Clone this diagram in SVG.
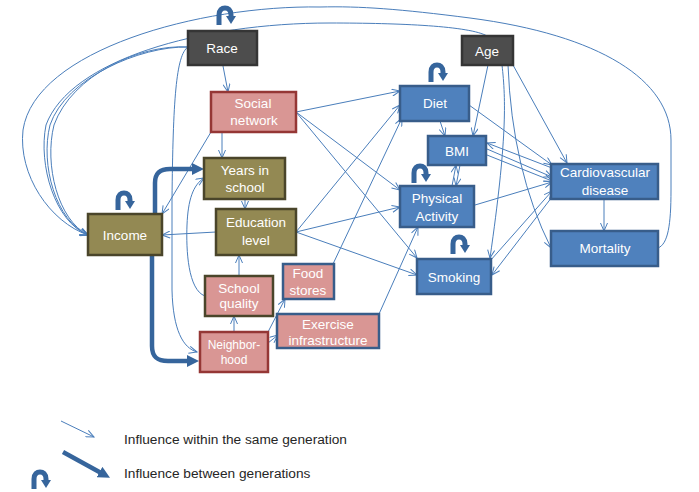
<svg xmlns="http://www.w3.org/2000/svg" xmlns:xlink="http://www.w3.org/1999/xlink" width="699" height="492" viewBox="0 0 699 492">
<style>
.c{fill:none;stroke:#4a7ebb;stroke-width:1;marker-end:url(#a)}
.t{fill:none;stroke:#36659c;stroke-width:4.5;marker-end:url(#t)}
.gray{fill:#4d4d4d;stroke:#353535;stroke-width:2.5}
.soc{fill:#d99694;stroke:#953735;stroke-width:2.5}
.oli{fill:#938953;stroke:#4a452a;stroke-width:2.5}
.sq{fill:#d99694;stroke:#4a452a;stroke-width:2.5}
.pb{fill:#d99694;stroke:#385d8a;stroke-width:2.5}
.blu{fill:#4f81bd;stroke:#385d8a;stroke-width:2.5}
text{font-family:"Liberation Sans",Arial,sans-serif;font-size:13.5px;fill:#ffffff;text-anchor:middle}
text.lg{fill:#262626;text-anchor:start;font-size:13.7px}
</style>
<defs>
<marker id="a" viewBox="0 0 10 8" refX="9" refY="4" markerWidth="10" markerHeight="8" orient="auto" markerUnits="userSpaceOnUse"><path d="M1,0.5 L9,4 L1,7.5" fill="none" stroke="#4a7ebb" stroke-width="1"/></marker>
<marker id="t" viewBox="0 0 12 12" refX="4" refY="6" markerWidth="12" markerHeight="12" orient="auto" markerUnits="userSpaceOnUse"><path d="M0,0 L12,6 L0,12 Z" fill="#36659c"/></marker>
<g id="lp"><path d="M4,18 L4,8 C4,3 7,1 10,1 C13,1 16,3 16,8 L16,10" fill="none" stroke="#36659c" stroke-width="5"/><path d="M11,9 L21,9 L16,17 Z" fill="#36659c"/></g>
</defs>

<g id="connectors">
<!-- long arcs into Income -->
<path class="c" d="M658,248 C668,244 671,225 671,190 L671,140 C671,80 600,35 470,18 C400,9 360,6 320,7 C200,5 35,50 23,130 C18,175 50,222 88,235"/>
<path class="c" d="M487,36 C470,26 400,23 330,23 C200,23 70,60 46,125 C38,165 55,222 88,235"/>
<path class="c" d="M188,47 C140,44 72,75 54,125 C44,165 58,220 88,235"/>
<path class="c" d="M188,47 C140,46 66,78 50,125 C40,165 56,221 88,235"/>
<!-- Race -->
<path class="c" d="M223,66 L228,92"/>
<path class="c" d="M188,47 C176,55 173,100 172,200 L172,290 C173,330 183,348 197,352"/>
<!-- Social network -->
<path class="c" d="M222,132 L222,158"/>
<path class="c" d="M211,132 L162,214"/>
<path class="c" d="M296,112 L400,91"/>
<path class="c" d="M296,112 L400,190"/>
<path class="c" d="M296,112 L417,258"/>
<!-- Years, Education -->
<path class="c" d="M245,199 L245,209"/>
<path class="c" d="M216,232 L162,235"/>
<path class="c" d="M296,232 L400,105"/>
<path class="c" d="M296,232 L400,207"/>
<path class="c" d="M296,232 L417,275"/>
<!-- School quality, Neighborhood -->
<path class="c" d="M239,276 L239,255"/>
<path class="c" d="M205,296 C188,290 186,250 187,225 C188,200 193,185 204,178"/>
<path class="c" d="M234,332 L234,316"/>
<path class="c" d="M268,332 L285,299"/>
<path class="c" d="M268,343 L278,335"/>
<!-- Food stores, Exercise -->
<path class="c" d="M333,264 L402,118"/>
<path class="c" d="M379,314 L418,227"/>
<!-- Age -->
<path class="c" d="M488,65 L473,136"/>
<path class="c" d="M502,65 C506,100 507,140 490,258"/>
<path class="c" d="M508,65 Q512,170 551,248"/>
<path class="c" d="M513,65 L567,163"/>
<!-- Diet, BMI, PA, Smoking, CVD -->
<path class="c" d="M440,121 L445,136"/>
<path class="c" d="M469,105 L552,165"/>
<path class="c" d="M552,168 L487,143"/>
<path class="c" d="M487,149 L552,177"/>
<path class="c" d="M487,155 L552,181"/>
<path class="c" d="M452,186 L456,165"/>
<path class="c" d="M460,165 L456,186"/>
<path class="c" d="M475,205 L552,182"/>
<path class="c" d="M490,261 L552,191"/>
<path class="c" d="M552,197 L492,275"/>
<path class="c" d="M604,199 L604,231"/>
<!-- thick intergenerational arrows -->
<path class="t" d="M155,214 L155,183 C155,173 160,169 170,169 L196,169"/>
<path class="t" d="M152,255 L152,346 C152,357 157,361 168,361 L191,361"/>
<!-- loops -->
<use xlink:href="#lp" x="215" y="7"/>
<use xlink:href="#lp" x="427" y="64"/>
<use xlink:href="#lp" x="114" y="192"/>
<use xlink:href="#lp" x="410" y="165"/>
<use xlink:href="#lp" x="449" y="236"/>
</g>

<g id="race"><rect class="gray" x="188" y="31" width="69" height="34"/><text x="222" y="53">Race</text></g>
<g id="age"><rect class="gray" x="462" y="36" width="51" height="29"/><text x="487" y="56">Age</text></g>
<g id="social-network"><rect class="soc" x="211" y="92" width="85" height="40"/><text x="253" y="108">Social</text><text x="254" y="125">network</text></g>
<g id="years-in-school"><rect class="oli" x="204" y="158" width="81" height="41"/><text x="245" y="175">Years in</text><text x="245" y="192">school</text></g>
<g id="education-level"><rect class="oli" x="216" y="209" width="80" height="46"/><text x="256" y="227">Education</text><text x="256" y="245">level</text></g>
<g id="income"><rect class="oli" x="88" y="214" width="74" height="41"/><text x="125" y="240">Income</text></g>
<g id="school-quality"><rect class="sq" x="205" y="276" width="68" height="40"/><text x="239" y="293">School</text><text x="239" y="308">quality</text></g>
<g id="neighborhood"><rect class="soc" x="200" y="332" width="68" height="40"/><text x="234" y="349" style="font-size:12px">Neighbor-</text><text x="234" y="364" style="font-size:12px">hood</text></g>
<g id="food-stores"><rect class="pb" x="283" y="264" width="51" height="35"/><text x="308" y="278">Food</text><text x="308" y="295">stores</text></g>
<g id="exercise-infrastructure"><rect class="pb" x="277" y="314" width="102" height="34"/><text x="328" y="329">Exercise</text><text x="328" y="345">infrastructure</text></g>
<g id="diet"><rect class="blu" x="400" y="86" width="69" height="35"/><text x="435" y="108">Diet</text></g>
<g id="bmi"><rect class="blu" x="428" y="136" width="58" height="29"/><text x="457" y="156">BMI</text></g>
<g id="physical-activity"><rect class="blu" x="400" y="186" width="74" height="41"/><text x="437" y="203">Physical</text><text x="437" y="221">Activity</text></g>
<g id="smoking"><rect class="blu" x="417" y="259" width="74" height="35"/><text x="454" y="282">Smoking</text></g>
<g id="cardiovascular-disease"><rect class="blu" x="551" y="164" width="107" height="35"/><text x="605" y="177">Cardiovascular</text><text x="605" y="195">disease</text></g>
<g id="mortality"><rect class="blu" x="551" y="231" width="107" height="35"/><text x="605" y="253">Mortality</text></g>

<g id="legend">
<path class="c" d="M61,421 L94,437"/>
<path class="t" d="M63,452 L103,474"/>
<use xlink:href="#lp" x="30" y="471"/>
<text class="lg" x="124" y="444">Influence within the same generation</text>
<text class="lg" x="124" y="478">Influence between generations</text>
</g>
</svg>
